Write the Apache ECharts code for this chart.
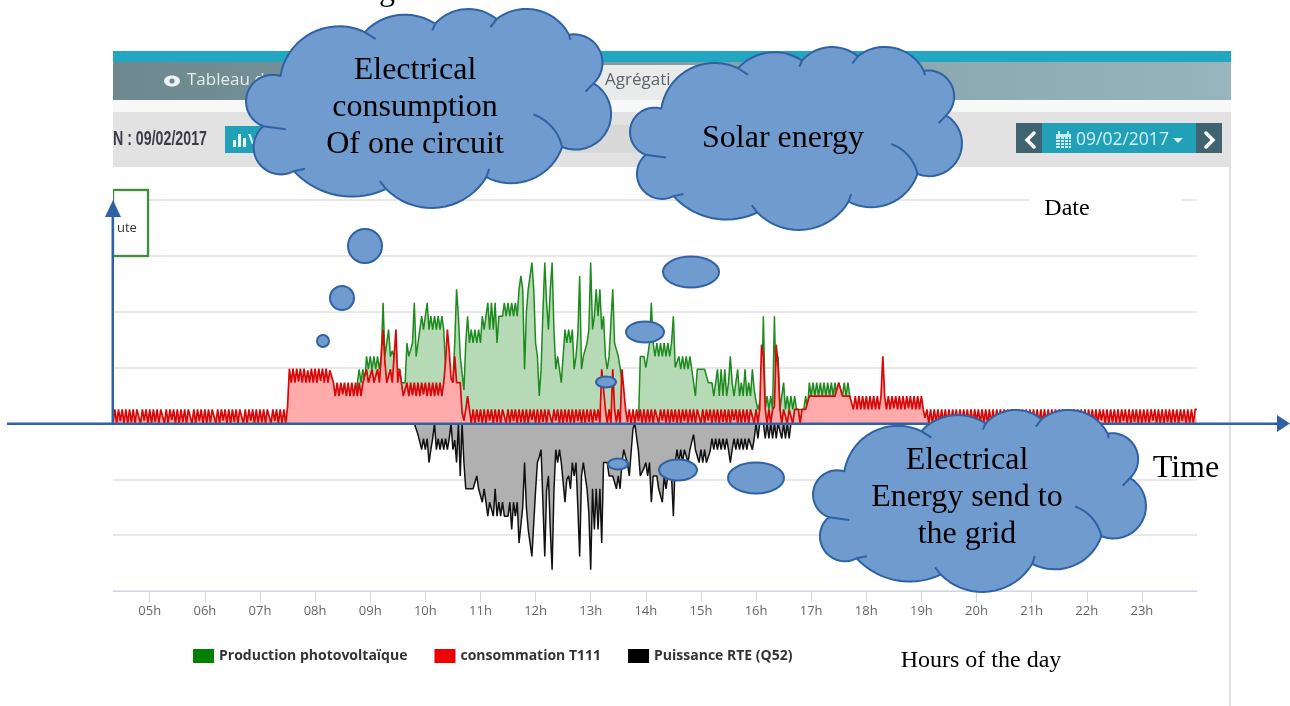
<!DOCTYPE html>
<html><head><meta charset="utf-8">
<style>html,body{margin:0;padding:0;background:#fff}#c{width:1290px;height:706px}</style>
<script src="https://cdn.jsdelivr.net/npm/echarts@6/dist/echarts.min.js"></script>
</head><body><div id="c"></div>
<script>
const hourTicks=[5,6,7,8,9,10,11,12,13,14,15,16,17,18,19,20,21,22,23];
const seriesNames=['Production photovoltaïque','consommation T111','Puissance RTE (Q52)'];
const firstHour=4+20/60, hoursPerSample=1/30;
const consumptionStart=0, productionStart=130, gridStart=160;
const consumption=[
0,.25,0,.25,.04,.25,0,.25,0,.25,
.02,.25,0,.25,.25,0,.25,.05,.25,0,
.25,0,.25,.03,.25,0,.25,.25,0,.25,
0,.25,.06,.25,0,.25,0,.25,.02,.25,
0,.25,.25,0,.25,0,.25,.04,.25,0,
.25,0,.25,.02,.25,.25,0,.25,0,.25,
.05,.25,0,.25,0,.25,.03,.25,0,.25,
.25,0,.25,0,.25,.05,.25,0,.25,0,
.25,.02,.25,0,.25,.25,0,.25,.04,.25,
0,.25,0,.25,0,.3,.98,.73,.98,.73,
.98,.75,.98,.73,.98,.73,.95,.73,.98,.73,
.98,.73,.98,.76,.98,.73,.98,.73,.95,.98,
.73,.49,.73,.49,.73,.52,.73,.49,.73,.49,
.73,.49,.73,.49,.73,.49,.73,.73,.97,.73,
.73,.97,.73,.73,.97,.73,.73,1.68,1.1,.73,
.73,.97,.73,.73,1.68,.73,.97,.73,.49,.49,
.73,.49,.73,.5,.73,.49,.73,.49,.73,.52,
.73,.49,.73,.49,.73,.49,.73,.5,.73,.49,
.73,1.1,1.68,1.3,.8,.73,1.2,.73,.73,.73,
.2,.05,.25,.49,.25,0,.25,0,.25,.03,
.25,0,.25,0,.25,.05,.25,0,.25,.02,
.25,0,.25,.25,0,.25,0,.25,.04,.25,
0,.25,.02,.25,0,.25,0,.25,.06,.25,
0,.25,0,.25,.03,.25,0,.25,.25,0,
.25,.05,.25,0,.25,0,.25,.02,.25,0,
.25,0,.25,.04,.25,0,.25,0,.25,.03,
.25,0,.25,.05,.25,0,.97,.97,.25,0,
.25,0,.97,.25,.02,.25,0,.97,.97,.25,
.03,.25,0,.25,0,.25,.04,.25,0,.25,
0,.25,.02,.25,0,.25,.25,0,.25,.05,
.25,0,.25,0,.25,.03,.25,0,.25,0,
.25,.04,.25,0,.25,.02,.25,0,.25,.25,
0,.25,0,.25,.05,.25,0,.25,.02,.25,
0,.25,.03,.25,0,.25,0,.25,.06,.25,
0,.25,0,.25,.02,.25,0,.25,.25,0,
.25,0,.25,1.41,1.2,.25,0,.25,0,.25,
.3,1.41,1,.25,0,.25,.25,0,.25,.25,
0,.25,.25,.25,0,.25,.25,.25,.25,.49,
.49,.49,.49,.49,.49,.49,.49,.49,.49,.49,
.49,.49,.49,.49,.49,.73,.73,.49,.49,.49,
.49,.49,.49,.25,.49,.25,.49,.25,.49,.25,
.49,.25,.49,.25,.49,.25,.49,.25,.49,1.2,
.49,.25,.49,.25,.49,.27,.49,.25,.49,.25,
.49,.25,.49,.27,.49,.25,.49,.25,.49,.25,
.49,.25,.1,.25,0,.25,0,.25,.03,.25,
0,.25,.02,.25,0,.25,0,.25,.05,.25,
0,.25,0,.25,.03,.25,0,.25,0,.25,
.04,.25,0,.25,.02,.25,0,.25,0,.25,
0,.25,.05,.25,0,.25,0,.25,.03,.25,
0,.25,0,.25,.02,.25,0,.25,.04,.25,
0,.25,.03,.25,0,.25,0,.25,0,.25,
.02,.25,0,.25,.05,.25,0,.25,0,.25,
0,.25,0,.25,.04,.25,0,.25,.02,.25,
0,.25,.03,.25,0,.25,0,.25,.05,.25,
0,.25,0,.25,.02,.25,0,.25,0,.25,
.04,.25,0,.25,0,.25,.03,.25,0,.25,
0,.25,.02,.25,0,.25,.05,.25,0,.25,
0,.25,0,.25,.03,.25,0,.25,.02,.25,
0,.25,.04,.25,0,.25,0,.25,0,.25,
.25];
const production=[
0,0,0,.73,.97,.73,.97,.73,1.2,.97,
1.2,.97,1.2,.97,1.2,.97,1.2,2.16,1.2,1.2,
1.68,1.2,1.3,1.2,.97,.97,.97,.73,.73,.73,
1.44,1.2,1.2,1.44,2.16,1.2,1.44,1.44,1.92,1.68,
1.92,2.16,1.68,1.92,1.68,1.92,1.68,1.92,1.68,1.92,
1.68,1,.8,.73,.73,.73,1.44,2.4,1.92,1.2,
.9,.6,1.44,1.92,1.44,1.68,1.44,1.68,1.44,1.68,
1.44,1.92,1.68,1.92,2.16,1.68,2.16,1.68,2.16,1.44,
1.92,1.92,1.92,2.16,1.92,2.16,1.92,2.16,1.92,2.16,
1.92,2.4,2.64,2.4,.97,2,2.4,2.4,2.88,2.4,
1.44,1.2,.49,.97,2,2.88,2.16,1.68,2.4,2.88,
1.68,.97,1.2,.97,.73,1.2,1.68,1.44,1.68,1.44,
1.68,.97,1.2,1.6,2.64,.97,1.2,1.2,1.44,1.68,
2.88,1.68,1.92,2.4,1.92,2.4,1.68,1.92,1.2,.97,
1.2,1.8,2.4,1.44,1.44,1.2,1,.97,.5,.1,
0,0,0,0,0,0,0,1.2,1.2,1.2,
1,1.2,1.44,2.16,1.44,1.2,1.44,1.2,1.44,1.2,
1.44,1.2,1.44,1.2,1.44,1.92,1,.97,1.2,.97,
1.2,.97,1.2,.97,1.2,.97,.73,.49,.97,.97,
.97,.97,.97,.97,.73,.73,.73,.49,.73,.97,
.49,.97,.49,.97,.49,.73,1.2,.73,.49,.73,
.97,.49,.73,.49,.97,.49,.73,.49,.97,.6,
.4,.25,.25,.5,1.92,.25,.49,.25,.49,.25,
1.92,.49,1.2,.25,.25,.73,.25,.49,.25,.49,
.25,.49,.25,.25,.25,.25,.25,.49,.25,.73,
.49,.73,.49,.73,.49,.73,.49,.73,.49,.73,
.49,.73,.49,.73,.49,.73,.73,.49,.73,.49,
.73,.49,.25];
const gridPower=[
0,0,0,0,0,0,-.2,-.2,-.47,-.27,
-.47,-.27,-.7,-.47,-.27,0,-.47,-.27,-.47,-.27,
-.47,-.27,-.47,-.27,0,-.47,-.3,-.7,0,-.94,
0,-.7,-1.17,-1.17,-1.17,-1.17,-1.17,-1.17,-.94,-1.17,
-1.17,-1.41,-1.17,-1.41,-1.66,-1.41,-1.41,-1.66,-1.17,-1.66,
-1.41,-1.66,-1.41,-1.66,-1.66,-1.66,-1.41,-1.9,-1.41,-1.66,
-1.41,-2.14,-2.14,-1.5,-.7,-1.5,-1.9,-2.14,-2.38,-2.38,
-1.2,-.7,-.6,-.47,-.47,-2.38,-1.2,-.94,-1.9,-2.62,
-1.2,-.47,-.7,-.47,-.7,-.7,-1.41,-1,-.94,-1.17,
-.7,-.94,-.7,-1.5,-2.38,-.94,-.7,-.94,-1.17,-1.6,
-2.62,-1.17,-1.9,-1.17,-1.9,-1.17,-2.14,-.7,-.7,-.7,
-.94,-.94,-.94,-.94,-1.17,-.94,-1.17,-.7,-.47,-.6,
-.7,-.94,-.94,-.1,0,0,-.5,-.94,-.94,-.8,
-.7,-.94,-.7,-1.41,-.94,-.94,-.94,-1.17,-1.17,-1.41,
-.94,-1.17,-.94,-.94,-.94,-1.66,-.7,-.47,-.7,-.47,
-.7,-.47,-.47,-.7,-.47,-.47,-.2,-.47,-.47,-.7,
-.47,-.7,-.47,-.7,-.7,-.5,-.27,-.47,-.27,-.47,
-.27,-.47,-.27,-.47,-.27,-.47,-.7,-.47,-.27,-.47,
-.27,-.47,-.27,-.47,-.27,-.47,-.27,-.27,-.47,-.27,
0,-.27,0,0,0,-.27,0,-.27,0,-.27,
0,-.27,0,0,-.27,0,-.27,0,-.27,0];

function toPoints(values,start){return values.map((v,i)=>[firstHour+(start+i)*hoursPerSample,v]);}

// ---- screenshot chrome and annotations ----
const serif='"Liberation Serif", serif', sans='"Open Sans", sans-serif';
const g=[];
const rect=(x,y,w,h,fill,z=10,extra={})=>g.push({type:'rect',z,silent:true,shape:{x,y,width:w,height:h},style:Object.assign({fill},extra)});
const label=(text,x,y,font,fill,align='center',z=40,sx=1)=>g.push({type:'text',z,silent:true,x,y,scaleX:sx,style:{text,x:0,y:0,font,fill,textAlign:align,textVerticalAlign:'middle',align,verticalAlign:'middle'}});
const chev=(pts,z=12)=>g.push({type:'polyline',z,silent:true,shape:{points:pts},style:{stroke:'#fff',lineWidth:3.5,fill:null,lineCap:'round'}});

rect(113,51,1118,11,'#22a6c1');
g.push({type:'rect',z:10,silent:true,shape:{x:113,y:62,width:1118,height:38},style:{fill:{type:'linear',x:0,y:0,x2:1,y2:0,colorStops:[{offset:0,color:'#6d898f'},{offset:1,color:'#98b4bc'}]}}});
rect(590,65,110,35,'#e9ebeb',11);
rect(113,100,1118,12,'#f7f8f8');
rect(113,112,1116,55,'#e2e2e2');
rect(1229,112,2,594,'#e0e0e0');
rect(565,125,75,28,'#d8d8d8',11);
g.push({type:'ellipse',z:12,silent:true,shape:{cx:172,cy:81,rx:8,ry:5.5},style:{fill:'#eef3f4'}});
g.push({type:'circle',z:13,silent:true,shape:{cx:172,cy:81,r:2.6},style:{fill:'#6d898f'}});
label('Tableau d',187,80,'17px '+sans,'#e4ecee','left',12);
label('Agrégati',605,80,'17px '+sans,'#5b6466','left',12);
label('N : 09/02/2017',113,139,'bold 20px "Liberation Sans", sans-serif','#3b3b4a','left',12,.71);
rect(225,126,38,27,'#22a0b8',11);
rect(233,140,3,7,'#e9f7fa',12);rect(238,134,3,13,'#e9f7fa',12);rect(243,138,3,9,'#e9f7fa',12);
label('V',253,140,'bold 15px '+sans,'#d6f2f7','center',12);
rect(1016,123,26,30,'#3f6370',11);
rect(1042,123,154,30,'#22a0b8',11);
rect(1196,123,26,30,'#3f6370',11);
chev([[1034,133],[1027,140],[1034,147]]);
chev([[1206,133],[1213,140],[1206,147]]);
rect(1056,134,15,14,'#c7edf3',12);
rect(1058,131,2,4,'#c7edf3',12);rect(1067,131,2,4,'#c7edf3',12);
[1060,1064,1068].forEach(x=>rect(x,137,1,11,'#22a0b8',13));
[139,142,145].forEach(y=>rect(1056,y,15,1,'#22a0b8',13));
label('09/02/2017',1076,140,'17.5px '+sans,'#d2f3f8','left',12);
g.push({type:'polygon',z:12,silent:true,shape:{points:[[1173,138],[1183,138],[1178,143]]},style:{fill:'#d2f3f8'}});
// clipped legend box
rect(113,190,35,66,'#fff',10,{stroke:'#3f8f3f',lineWidth:2,shadowBlur:2,shadowColor:'#9ab89a'});
rect(110,188,3,70,'#fff',11);
label('ute',117,228,'13px '+sans,'#333','left',12);
// patch behind the Date caption
rect(1030,190,151,30,'#fff',9);

// arrows
const arrow='#2f62a5';
rect(7,422.5,1271,2.5,arrow,20);
g.push({type:'polygon',z:20,silent:true,shape:{points:[[1277,415],[1290,423.5],[1277,432]]},style:{fill:arrow}});
rect(111.5,216,2.5,208,arrow,20);
g.push({type:'polygon',z:20,silent:true,shape:{points:[[105,217],[113,200],[121,217]]},style:{fill:arrow}});

// clouds: three-point arcs around a shared outline, sampled to points
function arc(s,m,e,n=18){
  const d=2*(s[0]*(m[1]-e[1])+m[0]*(e[1]-s[1])+e[0]*(s[1]-m[1]));
  const a=s[0]*s[0]+s[1]*s[1],b=m[0]*m[0]+m[1]*m[1],c=e[0]*e[0]+e[1]*e[1];
  const ux=(a*(m[1]-e[1])+b*(e[1]-s[1])+c*(s[1]-m[1]))/d, uy=(a*(e[0]-m[0])+b*(s[0]-e[0])+c*(m[0]-s[0]))/d;
  const r=Math.hypot(s[0]-ux,s[1]-uy);
  const as=Math.atan2(s[1]-uy,s[0]-ux),ae=Math.atan2(e[1]-uy,e[0]-ux);
  const cross=(m[0]-s[0])*(e[1]-m[1])-(m[1]-s[1])*(e[0]-m[0]);
  const TAU=Math.PI*2;
  let delta=ae-as;
  if(cross>0){while(delta<0)delta+=TAU;}else{while(delta>0)delta-=TAU;}
  const pts=[];
  for(let i=0;i<=n;i++){const t=as+delta*i/n;pts.push([ux+r*Math.cos(t),uy+r*Math.sin(t)]);}
  return pts;
}
const lobes=[[[687,228],[820,80],[893,97]],[[893,97],[985,45],[1065,72]],[[1065,72],[1145,28],[1215,58]],[[1215,58],[1295,28],[1392,105]],[[1392,105],[1473,200],[1452,250]],[[1452,250],[1492,315],[1375,440]],[[1375,440],[1255,548],[1190,530]],[[1190,530],[1055,622],[945,565]],[[945,565],[860,588],[720,512]],[[720,512],[622,430],[645,378]],[[645,378],[603,305],[687,228]]];
const tails=[[[893,97],[920,118]],[[1065,72],[1058,92]],[[1215,58],[1200,82]],[[1392,105],[1395,120]],[[1452,250],[1432,275]],[[1190,530],[1197,505]],[[945,565],[930,542]],[[720,512],[747,505]],[[645,378],[700,387]]];
function cloud(x,y,w,h){
  const P=p=>[x+(p[0]-603)/889*w,y+(p[1]-28)/594*h];
  let pts=[];
  lobes.forEach(l=>{pts=pts.concat(arc(P(l[0]),P(l[1]),P(l[2])));});
  g.push({type:'polygon',z:30,silent:true,shape:{points:pts},style:{fill:'#6f9bce',stroke:arrow,lineWidth:2,lineJoin:'round'}});
  tails.forEach(l=>g.push({type:'polyline',z:31,silent:true,shape:{points:[P(l[0]),P(l[1])]},style:{fill:null,stroke:arrow,lineWidth:2}}));
  g.push({type:'polyline',z:31,silent:true,shape:{points:arc(P([1305,343]),P([1350,380]),P([1375,440]))},style:{fill:null,stroke:arrow,lineWidth:2}});
}
cloud(246,9,364,199);
cloud(630,47,331,183);
cloud(813,410,332,182);
[[365,246,17,17],[342,298,12,12],[323,341,6,6],[691,272,28,15.5],[645,332,19,10.5],[606,382,10,5.5],[618,464,10,5.5],[678,470,19,10.5],[756,478,28,15.5]]
 .forEach(e=>g.push({type:'ellipse',z:32,silent:true,shape:{cx:e[0],cy:e[1],rx:e[2],ry:e[3]},style:{fill:'#6f9bce',stroke:arrow,lineWidth:2}}));

const F=s=>s+'px '+serif;
label('Electrical',415,71,F(32),'#000');
label('consumption',415,108,F(32),'#000');
label('Of one circuit',415,145,F(32),'#000');
label('Solar energy',783,139,F(32),'#000');
label('Electrical',967,461,F(32),'#000');
label('Energy send to',967,498,F(32),'#000');
label('the grid',967,535,F(32),'#000');
label('Time',1186,469,F(32),'#000');
label('Date',1067,209,F(24),'#000');
label('Hours of the day',981,661,F(24),'#000');
label('You have access to the diagram',42,-8,F(32),'#000','left');

const chart=echarts.init(document.getElementById('c'),null,{renderer:'canvas'});
chart.setOption({
  animation:false,
  backgroundColor:'#fff',
  grid:{left:113,top:200,width:1084,height:391,containLabel:false},
  legend:{left:188,top:644,itemWidth:21,itemHeight:14,itemGap:27,selectedMode:false,icon:'rect',
    data:seriesNames,textStyle:{fontFamily:'"Open Sans", sans-serif',fontWeight:'bold',fontSize:14,color:'#333'}},
  xAxis:{type:'value',min:firstHour,max:24,
    axisLine:{onZero:false,lineStyle:{color:'#ccd6eb'}},
    axisTick:{show:true,length:11,customValues:hourTicks,lineStyle:{color:'#ccd6eb'}},
    axisLabel:{customValues:hourTicks,margin:14,color:'#666',fontSize:13,fontFamily:'"Open Sans", sans-serif',
      formatter:v=>String(v).padStart(2,'0')+'h'},
    splitLine:{show:false}},
  yAxis:{type:'value',min:-3,max:4,interval:1,axisLabel:{show:false},axisLine:{show:false},axisTick:{show:false},
    splitLine:{lineStyle:{color:'#e0e0e0',width:1.5}}},
  series:[
    {name:seriesNames[0],type:'line',z:2,showSymbol:false,symbol:'none',color:'#007f00',
      lineStyle:{color:'#1d8a1d',width:1.5},areaStyle:{color:'#b6d9b6',opacity:1},data:toPoints(production,productionStart)},
    {name:seriesNames[2],type:'line',z:2,showSymbol:false,symbol:'none',color:'#000',
      lineStyle:{color:'#111',width:1.5},areaStyle:{color:'#b0b0b0',opacity:1},data:toPoints(gridPower,gridStart)},
    {name:seriesNames[1],type:'line',z:3,showSymbol:false,symbol:'none',color:'#f00000',
      lineStyle:{color:'#d80808',width:1.7},areaStyle:{color:'#ffabab',opacity:1},data:toPoints(consumption,consumptionStart)}
  ],
  graphic:{elements:g}
});
</script></body></html>
